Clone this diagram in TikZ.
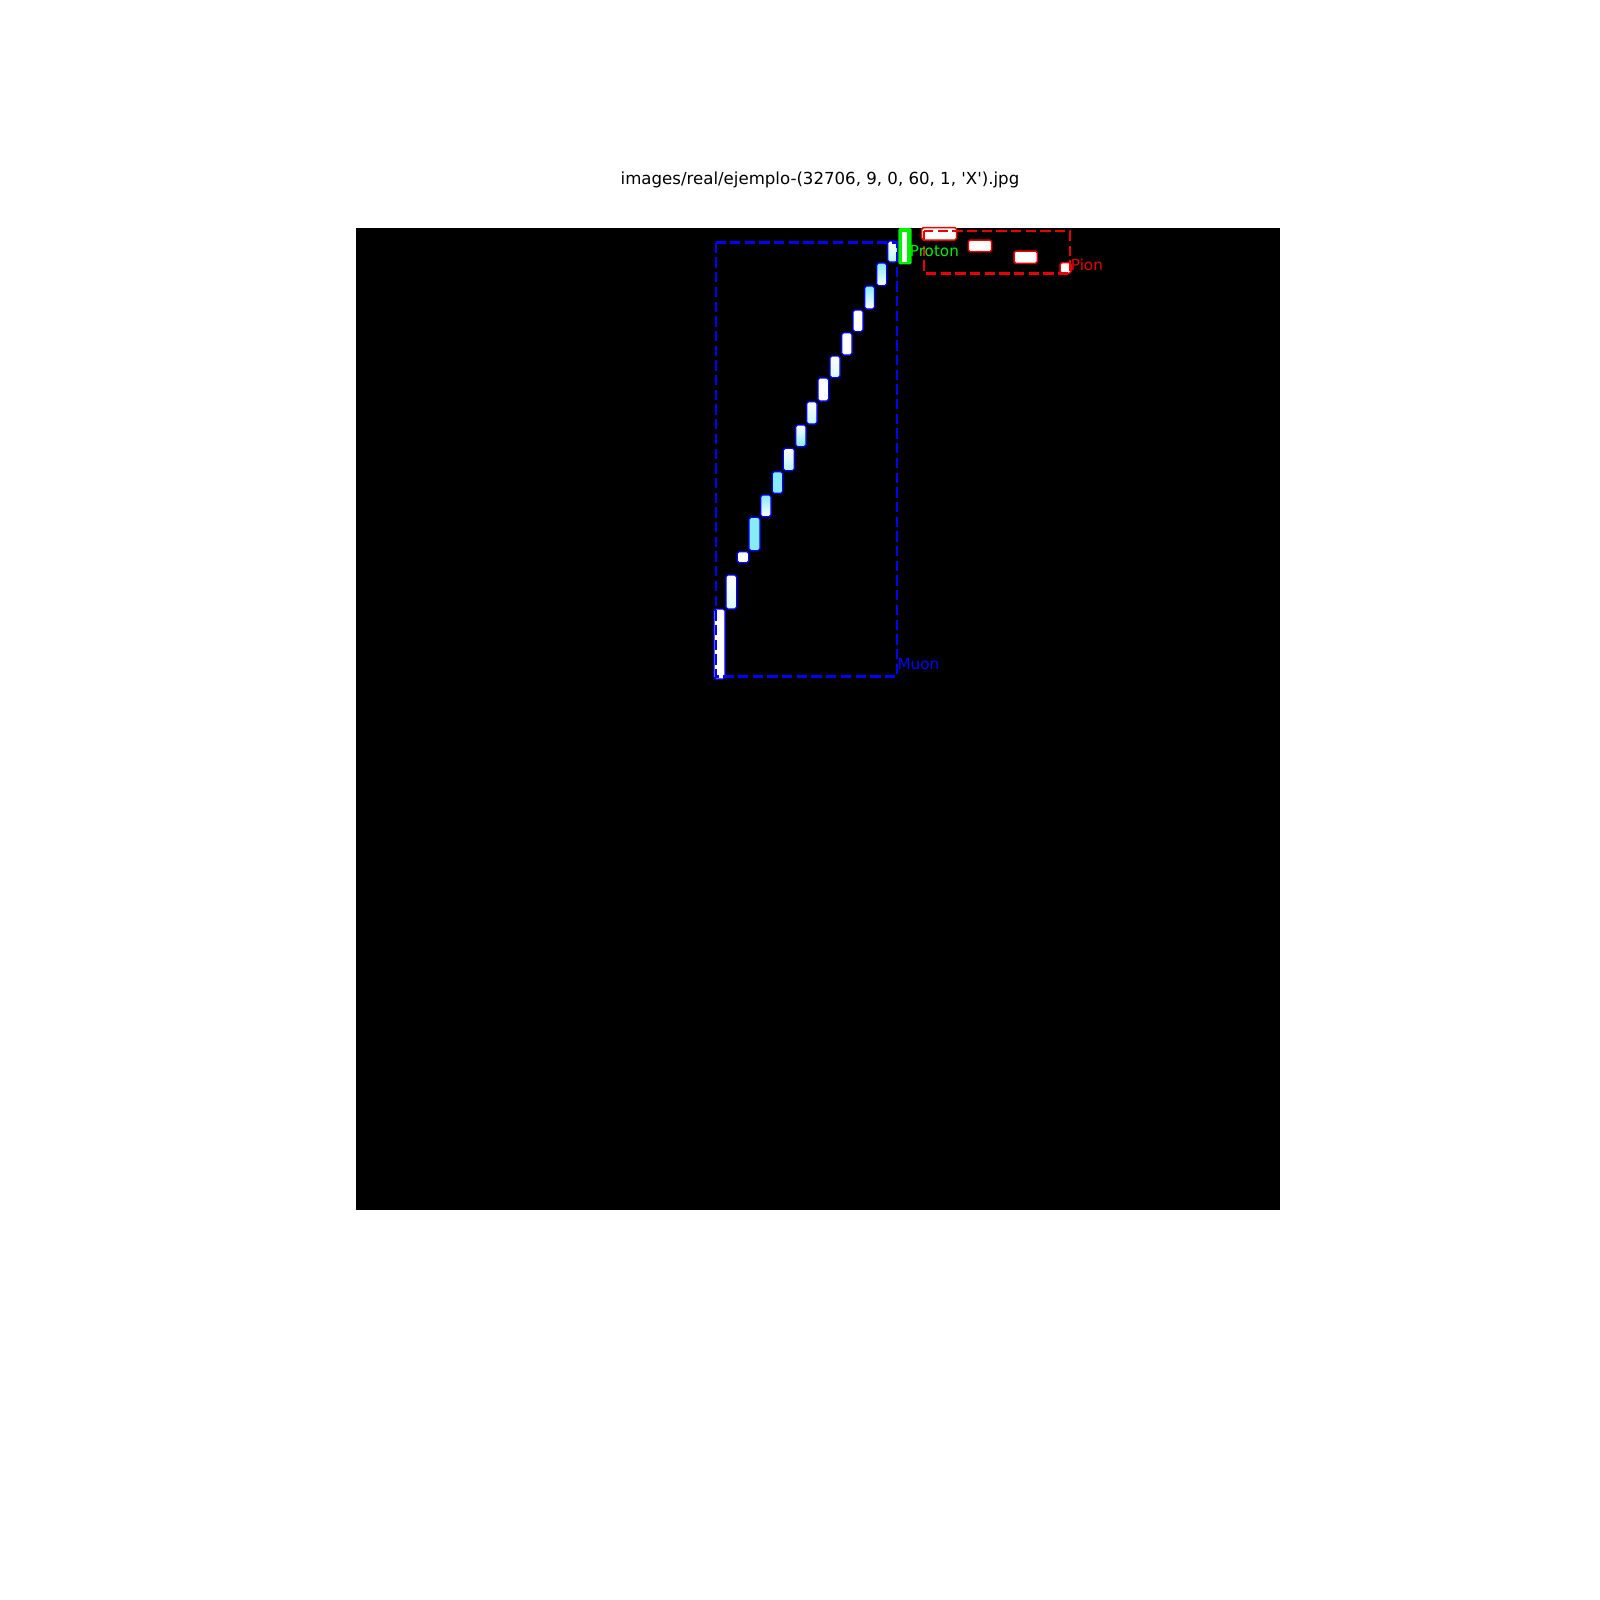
\documentclass[tikz,border=0pt]{standalone}
\usepackage{fontspec}
\setmainfont{DejaVu Sans}
\definecolor{mblue}{RGB}{0,0,255}
\definecolor{mcyan}{RGB}{135,235,250}
\definecolor{mgreen}{RGB}{0,240,0}
\definecolor{mred}{RGB}{235,0,0}
\tikzset{
  trackhit/.style={draw=mblue, line width=1.3pt, rounded corners=1.8pt},
  pionhit/.style={draw=mred, fill=white, line width=1.5pt, rounded corners=1.8pt},
  boxline/.style={line width=2.6pt, dash pattern=on 10.3pt off 4.4pt},
  lbl/.style={inner sep=0pt, anchor=base west, font=\fontsize{15.2}{18}\selectfont},
}
\newcommand\seghit[7]{%
  \shade[top color=#5, middle color=#6, bottom color=#7, rounded corners=1.8pt] (#1,#2) rectangle (#3,#4);
  \draw[trackhit] (#1,#2) rectangle (#3,#4);}
\begin{document}
\begin{tikzpicture}[x=1pt,y=-1pt]
\useasboundingbox (0,0) rectangle (1600,1600);
\fill[white] (0,0) rectangle (1600,1600);
% title
\node[inner sep=0pt, anchor=base, font=\fontsize{16.6}{20}\selectfont] (title) at (820,184.5) {images/real/ejemplo-(32706, 9, 0, 60, 1, \textquotesingle X\textquotesingle).jpg};
% detector image
\fill[black] (356,228) rectangle (1280,1210);
% muon track
\seghit{887.7}{241}{897.5}{262}{white}{white}{mcyan!60}
\seghit{876.7}{263}{886.7}{285.7}{mcyan}{white}{white}
\seghit{864.7}{286}{874.5}{309}{mcyan}{white}{white}
\seghit{853}{310}{863}{331.7}{white}{white}{white}
\seghit{841.7}{332.7}{852}{355}{white}{white}{white}
\seghit{830}{356}{840}{377.7}{white}{white}{mcyan!30}
\seghit{818}{378}{828.7}{401}{white}{white}{white}
\seghit{806.7}{401.7}{817}{424}{white}{white}{mcyan!50}
\seghit{795.7}{425}{806}{446.7}{white}{mcyan!40}{mcyan}
\seghit{783.3}{448.3}{794.3}{470.7}{white}{mcyan!40}{mcyan!60}
\seghit{772.3}{471.7}{782.7}{493.3}{mcyan}{mcyan!80}{mcyan}
\seghit{760.7}{495}{771}{516.7}{mcyan}{white}{white}
\seghit{749}{517.3}{760}{550.7}{mcyan}{white}{mcyan}
\seghit{737.3}{551.7}{748.7}{562.7}{white}{white}{white}
\seghit{726}{575}{736.7}{609}{white}{white}{mcyan!30}
\seghit{714}{609}{725}{679}{white}{white}{white}
% proton hit
\fill[mgreen, rounded corners=2pt] (898.3,228) rectangle (911.7,264.3);
\fill[white] (901.7,231.5) rectangle (906.7,261.5);
% pion hits
\draw[pionhit] (921.7,227.5) rectangle (956.7,240);
\draw[pionhit] (968.3,240) rectangle (991.7,251.7);
\draw[pionhit] (1014,251) rectangle (1037.3,263.3);
\draw[pionhit] (1060,262.7) rectangle (1071,273.3);
% bounding boxes
\draw[boxline, mblue] (716,242.7) rectangle (897,676.5);
\draw[boxline, mred] (924,231) rectangle (1070,273.3);
% labels
\node[lbl, text=mgreen] (proton) at (909.7,256.7) {Proton};
\node[lbl, text=mred] (pion) at (1070.7,270) {Pion};
\node[lbl, text=mblue] (muon) at (897.3,669.5) {Muon};
\end{tikzpicture}
\end{document}
